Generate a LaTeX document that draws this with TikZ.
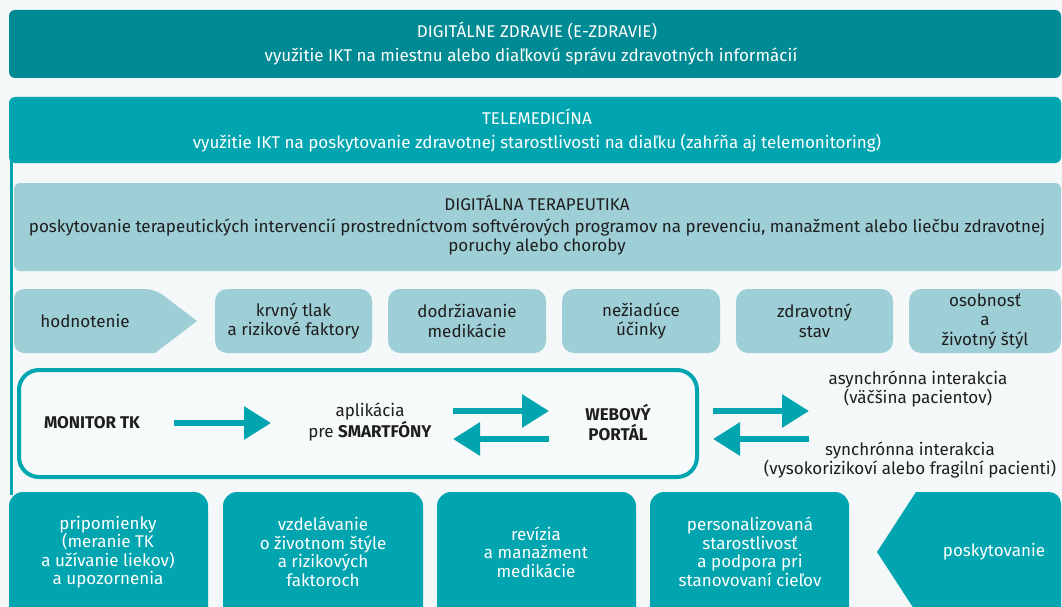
\documentclass[tikz,border=0pt]{standalone}
\usepackage{fontspec}
\setmainfont{Fira Sans}
\usetikzlibrary{arrows.meta}
\definecolor{bg}{HTML}{F4F8F8}
\definecolor{dteal}{HTML}{008A93}
\definecolor{teal1}{HTML}{00A5B0}
\definecolor{lblue}{HTML}{9ECFD6}
\definecolor{ink}{HTML}{1E1E1E}
\definecolor{inner}{HTML}{F7FAFA}
\begin{document}
\begin{tikzpicture}[x=1pt,y=-1pt,
  every node/.style={inner sep=0pt,align=center},
  txt/.style={font=\fontsize{17}{19.5}\selectfont},
  wtxt/.style={txt,text=white},
  dtxt/.style={txt,text=ink},
  btxt/.style={dtxt,font=\fontsize{17}{20}\selectfont\bfseries},
  ptxt/.style={wtxt,font=\fontsize{17}{18.5}\selectfont},
  lbox/.style={fill=lblue,rounded corners=12pt},
  tbox/.style={fill=teal1,rounded corners=14pt},
  bigarrow/.style={draw=teal1,line width=6pt,-{Triangle[length=27pt,width=32pt]}}]
\clip (0,0) rectangle (1062,607);
\fill[bg] (0,0) rectangle (1062,607);
% digital health
\fill[dteal,rounded corners=6pt] (9,10) rectangle (1061,78);
\node[wtxt] (dz1) at (537,31) {DIGITÁLNE ZDRAVIE (E-ZDRAVIE)};
\node[wtxt] (dz2) at (531,57) {využitie IKT na miestnu alebo diaľkovú správu zdravotných informácií};
% telemedicine
\fill[teal1,rounded corners=6pt] (9,97) rectangle (1061,163);
\draw[teal1,line width=3pt] (11.5,160) -- (11.5,495);
\node[wtxt] (tm1) at (537,117) {TELEMEDICÍNA};
\node[wtxt] (tm2) at (537,143) {využitie IKT na poskytovanie zdravotnej starostlivosti na diaľku (zahŕňa aj telemonitoring)};
% digital therapeutics
\fill[lblue,rounded corners=6pt] (14,183) rectangle (1061,271);
\node[dtxt] (dt1) at (537,203) {DIGITÁLNA TERAPEUTIKA};
\node[dtxt] (dt2) at (537,237) {poskytovanie terapeutických intervencií prostredníctvom softvérových programov na prevenciu, manažment alebo liečbu zdravotnej\\poruchy alebo choroby};
% assessment row
\fill[lblue] (14,321) [rounded corners=10pt] -- (14,289) -- (155,289) [sharp corners] -- (197,321) -- (155,353) [rounded corners=10pt] -- (14,353) -- cycle;
\node[dtxt] (hod) at (85,321) {hodnotenie};
\fill[lbox] (215,289) rectangle (372,353);
\node[dtxt] (kt) at (293.5,321) {krvný tlak\\a rizikové faktory};
\fill[lbox] (388,289) rectangle (546,353);
\node[dtxt] (dm) at (467,321) {dodržiavanie\\medikácie};
\fill[lbox] (562,289) rectangle (720,353);
\node[dtxt] (nu) at (641,321) {nežiadúce\\účinky};
\fill[lbox] (736,289) rectangle (893,353);
\node[dtxt] (zs) at (814.5,321) {zdravotný\\stav};
\fill[lbox] (909,289) rectangle (1061,353);
\node[dtxt] (os) at (985,321) {osobnosť\\a\\životný štýl};
% monitoring box
\draw[teal1,line width=4pt,fill=inner,rounded corners=20pt] (19,370) rectangle (697,477);
\node[btxt] (mon) at (92,423) {MONITOR TK};
\node[dtxt] (app) at (370,422) {aplikácia\\pre \textbf{SMARTFÓNY}};
\node[btxt] (web) at (618,423) {WEBOVÝ\\PORTÁL};
\node[dtxt] (asy) at (918,389) {asynchrónna interakcia\\(väčšina pacientov)};
\node[dtxt] (syn) at (910,460) {synchrónna interakcia\\(vysokorizikoví alebo fragilní pacienti)};
\coordinate (a1s) at (174,423);
\coordinate (a1e) at (271,423);
\coordinate (a2s) at (453,411);
\coordinate (a2e) at (549,411);
\coordinate (a3s) at (549,439);
\coordinate (a3e) at (453,439);
\coordinate (a4s) at (713,411);
\coordinate (a4e) at (809,411);
\coordinate (a5s) at (809,439);
\coordinate (a5e) at (713,439);
\draw[bigarrow] (a1s) -- (a1e);
\draw[bigarrow] (a2s) -- (a2e);
\draw[bigarrow] (a3s) -- (a3e);
\draw[bigarrow] (a4s) -- (a4e);
\draw[bigarrow] (a5s) -- (a5e);
% provision row
\fill[tbox] (9,492) rectangle (208,640);
\node[ptxt] (pr) at (108,552) {pripomienky\\(meranie TK\\a užívanie liekov)\\a upozornenia};
\fill[tbox] (223,492) rectangle (423,640);
\node[ptxt] (vz) at (323,552) {vzdelávanie\\o životnom štýle\\a rizikových\\faktoroch};
\fill[tbox] (437,492) rectangle (636,640);
\node[ptxt] (re) at (536,552) {revízia\\a manažment\\medikácie};
\fill[tbox] (650,492) rectangle (849,640);
\node[ptxt] (pe) at (750,552) {personalizovaná\\starostlivosť\\a podpora pri\\stanovovaní cieľov};
\fill[teal1] (877,552) -- (916,492) [rounded corners=12pt] -- (1061,492) -- (1061,640) [sharp corners] -- (916,640) -- (916,612) -- cycle;
\node[wtxt] (po) at (994,552) {poskytovanie};
\end{tikzpicture}
\end{document}
